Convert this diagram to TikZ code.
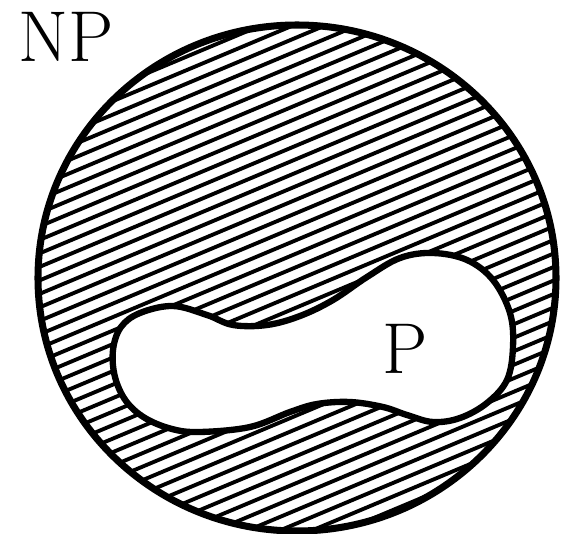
\documentclass[tikz,border=0pt]{standalone}
\usepackage{tikz}

\begin{document}
\begin{tikzpicture}[x=0.02cm, y=-0.02cm,
  outline/.style={line width=3.6pt},
  hatch/.style={line width=2.2pt},
  setname/.style={inner sep=0pt, font=\fontsize{41}{41}\selectfont}
]
\useasboundingbox (0,0) rectangle (562,534);

% the big set
\coordinate (c) at (297,278);

% hatching inside the circle
\begin{scope}
  \clip (c) ellipse [x radius=259, y radius=253];
  \foreach \k in {0,...,60}
    \draw[hatch] (0,{\k*13.5}) -- (562,{\k*13.5-236});
\end{scope}

% the set P, cut out of the hatching
\path[fill=white] plot[smooth cycle, tension=0.6] coordinates {
  (113,350) (121,327) (140,313) (173,306) (207,315) (233,325) (267,325)
  (300,316) (333,300) (367,277) (400,258) (433,253) (467,260) (493,280)
  (510,313) (513,347) (507,380) (487,403) (460,418) (433,422) (407,415)
  (383,407) (350,402) (317,404) (290,412) (250,427) (200,432) (172,429)
  (145,418) (126,401) (115,377)};
\draw[outline] plot[smooth cycle, tension=0.6] coordinates {
  (113,350) (121,327) (140,313) (173,306) (207,315) (233,325) (267,325)
  (300,316) (333,300) (367,277) (400,258) (433,253) (467,260) (493,280)
  (510,313) (513,347) (507,380) (487,403) (460,418) (433,422) (407,415)
  (383,407) (350,402) (317,404) (290,412) (250,427) (200,432) (172,429)
  (145,418) (126,401) (115,377)};

% outline of NP
\draw[outline, line width=4pt] (c) ellipse [x radius=259, y radius=253];

% labels
\node[setname] (np) at (66,37) {NP};
\node[setname] (p)  at (405,349) {P};

\end{tikzpicture}
\end{document}
